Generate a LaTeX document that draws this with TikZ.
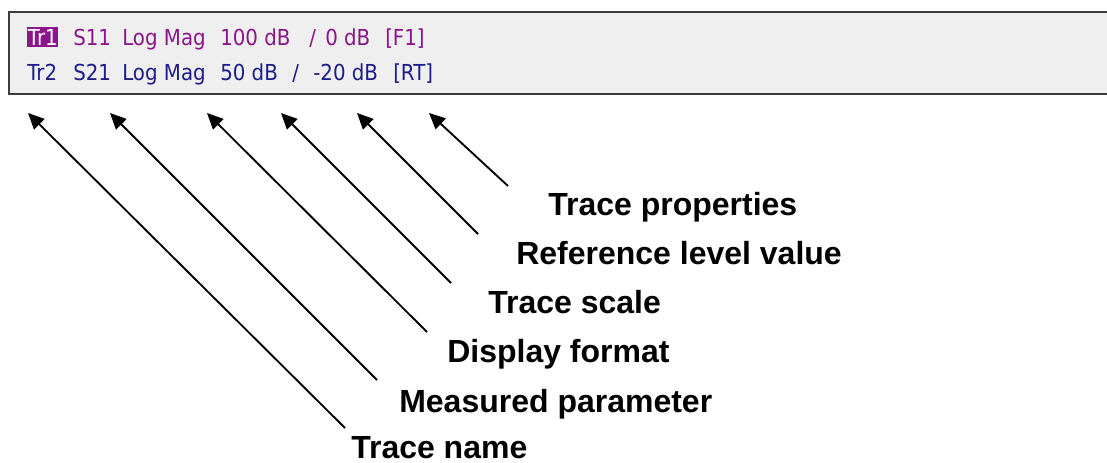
\documentclass[tikz,border=0pt]{standalone}
\usepackage{fontspec}
\setmainfont{Liberation Sans}
\newfontfamily\uifont[FakeStretch=0.9]{DejaVu Sans}
\usetikzlibrary{arrows.meta}
\definecolor{panelbg}{RGB}{239,239,239}
\definecolor{panelrule}{RGB}{60,60,60}
\definecolor{trone}{RGB}{140,20,140}
\definecolor{trtwo}{RGB}{28,28,140}
\tikzset{
  field/.style={anchor=base west, inner sep=0pt, font=\uifont\fontsize{16.5pt}{16.5pt}\selectfont},
  lineone/.style={field, text=trone},
  linetwo/.style={field, text=trtwo},
  label/.style={anchor=base west, inner sep=0pt, text depth=0pt, font=\bfseries\fontsize{24pt}{24pt}\selectfont},
  pointer/.style={line width=1.4pt, -{Triangle[length=12pt,width=11pt]}}
}
\begin{document}
\begin{tikzpicture}[x=0.75pt,y=-0.75pt]
\useasboundingbox (0,0) rectangle (1107,463);
% panel
\draw[panelrule, line width=1.5pt, fill=panelbg] (9,12) rectangle (1120,94);
% line 1
\node[field, fill=trone, text=white, text height=14.25pt, text depth=0.75pt, inner xsep=0.4pt] (tr1) at (27,46) {Tr1};
\node[lineone] (s11) at (73,46) {S11};
\node[lineone] (fmt1) at (122,46) {Log Mag};
\node[lineone] (scl1) at (220,46) {100 dB};
\node[lineone] (sl1) at (309,46) {/};
\node[lineone] (ref1) at (325,46) {0 dB};
\node[lineone] (prop1) at (385,46) {[F1]};
% line 2
\node[linetwo] (tr2) at (27,81) {Tr2};
\node[linetwo] (s21) at (73,81) {S21};
\node[linetwo] (fmt2) at (122,81) {Log Mag};
\node[linetwo] (scl2) at (220,81) {50 dB};
\node[linetwo] (sl2) at (292,81) {/};
\node[linetwo] (ref2) at (313,81) {-20 dB};
\node[linetwo] (prop2) at (393,81) {[RT]};
% labels
\node[label] (lprop) at (548,216) {Trace properties};
\node[label] (lref) at (516,265) {Reference level value};
\node[label] (lscale) at (488,314) {Trace scale};
\node[label] (lfmt) at (447,363) {Display format};
\node[label] (lmeas) at (399,412) {Measured parameter};
\node[label] (lname) at (351,458) {Trace name};
% arrow ends
\coordinate (tip1) at (28,113);  \coordinate (tail1) at (345,428);
\coordinate (tip2) at (110,113); \coordinate (tail2) at (377,380);
\coordinate (tip3) at (207,113); \coordinate (tail3) at (427,332);
\coordinate (tip4) at (281,113); \coordinate (tail4) at (451,283);
\coordinate (tip5) at (357,113); \coordinate (tail5) at (478,234);
\coordinate (tip6) at (429,113); \coordinate (tail6) at (508,186);
\draw[pointer] (tail1) -- (tip1);
\draw[pointer] (tail2) -- (tip2);
\draw[pointer] (tail3) -- (tip3);
\draw[pointer] (tail4) -- (tip4);
\draw[pointer] (tail5) -- (tip5);
\draw[pointer] (tail6) -- (tip6);
\end{tikzpicture}
\end{document}
